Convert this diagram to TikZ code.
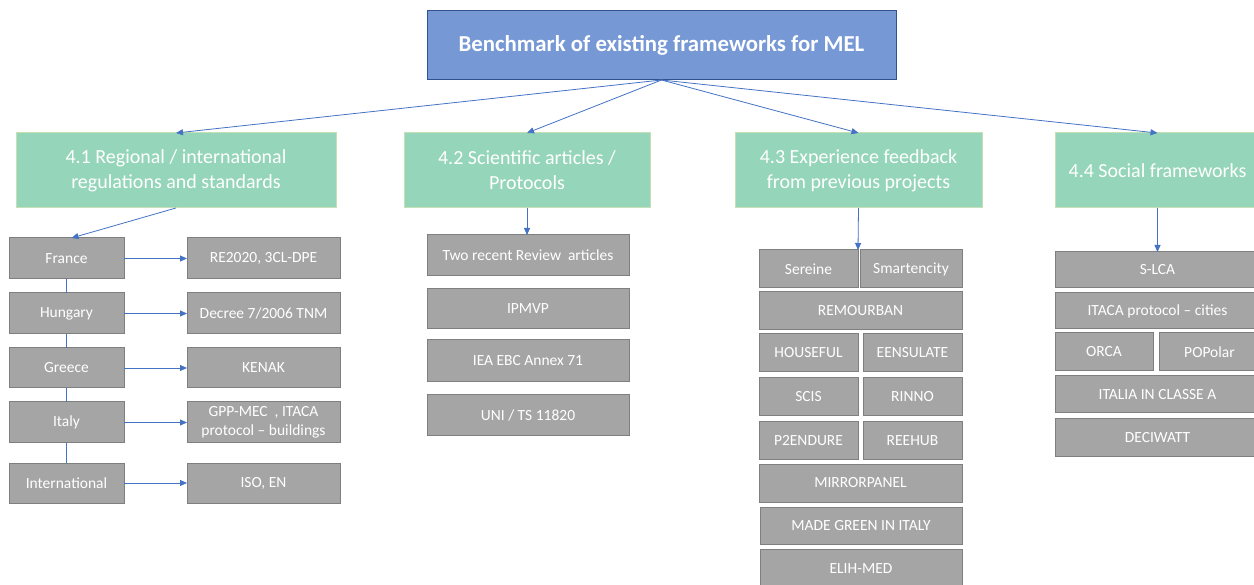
\documentclass[tikz,border=0pt]{standalone}
\usepackage{fontspec}
\setmainfont{Carlito}
\usetikzlibrary{arrows.meta,calc}
\definecolor{topfill}{HTML}{7698D5}
\definecolor{topborder}{HTML}{2F528F}
\definecolor{grfill}{HTML}{95D5B9}
\definecolor{grborder}{HTML}{C5E0B4}
\definecolor{gyfill}{HTML}{A5A5A5}
\definecolor{gyborder}{HTML}{7F7F7F}
\definecolor{arrowblue}{HTML}{4472C4}
\newcommand{\bx}[7]{\node[#1,minimum width={(#4-#2)*1pt},minimum height={(#5-#3)*1pt}] (#6) at ({(#2+#4)/2},{(#3+#5)/2}) {#7};}
\begin{document}
\begin{tikzpicture}[x=1pt,y=-1pt,
  topbox/.style={fill=topfill,draw=topborder,line width=1pt,text=white,inner sep=0pt,outer sep=0pt,font=\fontsize{22.8}{27}\selectfont\bfseries},
  greenbox/.style={fill=grfill,draw=grborder,line width=1pt,text=white,inner sep=0pt,outer sep=0pt,align=center,font=\fontsize{20}{25}\selectfont},
  graybox/.style={fill=gyfill,draw=gyborder,line width=1pt,text=white,inner sep=0pt,outer sep=0pt,align=center,font=\fontsize{15.5}{19}\selectfont},
  arr/.style={draw=arrowblue,line width=0.8pt,-{Triangle[length=7pt,width=6pt]}},
  link/.style={draw=arrowblue,line width=0.8pt}]
\useasboundingbox (0,0) rectangle (1254,585);
\clip (0,0) rectangle (1254,585);
\fill[white] (0,0) rectangle (1254,585);

\bx{topbox}{427}{11}{896}{80}{top}{Benchmark of existing frameworks for MEL}

\bx{greenbox}{16}{133}{336}{208}{g1}{4.1 Regional / international\\regulations and standards}
\bx{greenbox}{404}{133}{650}{208}{g2}{4.2 Scientific articles /\\Protocols}
\bx{greenbox}{735}{133}{982}{208}{g3}{4.3 Experience feedback\\from previous projects}
\bx{greenbox}{1055}{133}{1260}{208}{g4}{4.4 Social frameworks}

% column 1
\bx{graybox}{9}{238}{124}{279}{france}{France}
\bx{graybox}{9}{293}{124}{334}{hungary}{Hungary}
\bx{graybox}{9}{348}{124}{388}{greece}{Greece}
\bx{graybox}{9}{402}{124}{443}{italy}{Italy}
\bx{graybox}{9}{463}{124}{503}{intl}{International}
\bx{graybox}{187}{238}{340}{279}{re}{RE2020, 3CL-DPE}
\bx{graybox}{187}{293}{340}{334}{decree}{Decree 7/2006 TNM}
\bx{graybox}{187}{348}{340}{388}{kenak}{KENAK}
\bx{graybox}{187}{402}{340}{443}{gpp}{GPP-MEC~ , ITACA\\protocol -- buildings}
\bx{graybox}{187}{463}{340}{503}{iso}{ISO, EN}

% column 2
\bx{graybox}{427}{235}{629}{276}{two}{Two recent Review~ articles}
\bx{graybox}{427}{289}{629}{329}{ipmvp}{IPMVP}
\bx{graybox}{427}{340}{629}{382}{iea}{IEA EBC Annex 71}
\bx{graybox}{427}{395}{629}{436}{uni}{UNI / TS 11820}

% column 3
\bx{graybox}{759}{250}{858}{288}{sereine}{Sereine}
\bx{graybox}{860}{250}{962}{288}{smart}{Smartencity}
\bx{graybox}{759}{292}{962}{330}{remo}{REMOURBAN}
\bx{graybox}{759}{334}{858}{372}{house}{HOUSEFUL}
\bx{graybox}{863}{334}{962}{372}{eens}{EENSULATE}
\bx{graybox}{759}{378}{858}{416}{scis}{SCIS}
\bx{graybox}{863}{378}{962}{416}{rinno}{RINNO}
\bx{graybox}{759}{422}{858}{459}{p2}{P2ENDURE}
\bx{graybox}{863}{422}{962}{459}{reehub}{REEHUB}
\bx{graybox}{759}{464}{962}{502}{mirror}{MIRRORPANEL}
\bx{graybox}{760}{507}{962}{544}{made}{MADE GREEN IN ITALY}
\bx{graybox}{760}{549}{962}{588}{elih}{ELIH-MED}

% column 4
\bx{graybox}{1055}{252}{1260}{288}{slca}{S-LCA}
\bx{graybox}{1055}{293}{1260}{329}{itaca}{ITACA protocol -- cities}
\bx{graybox}{1055}{333}{1153}{371}{orca}{ORCA}
\bx{graybox}{1159}{333}{1260}{371}{popolar}{POPolar}
\bx{graybox}{1055}{376}{1260}{413}{italia}{ITALIA IN CLASSE A}
\bx{graybox}{1055}{419}{1260}{456}{deci}{DECIWATT}

% top arrows
\draw[arr] (top.south) -- (g1.north);
\draw[arr] (top.south) -- (g2.north);
\draw[arr] (top.south) -- (g3.north);
\draw[arr] (top.south) -- (g4.north);

% column arrows
\draw[arr] (g1.south) -- ($(france.north)+(5,0)$);
\draw[arr] (g2.south) -- (g2.south |- two.north);
\draw[arr] (g3.south) -- (sereine.north east);
\draw[arr] (g4.south) -- (g4.south |- slca.north);

% country chain
\draw[link] (france.south) -- (hungary.north);
\draw[link] (hungary.south) -- (greece.north);
\draw[link] (greece.south) -- (italy.north);
\draw[link] (italy.south) -- (intl.north);

\draw[arr] (france.east) -- (re.west);
\draw[arr] (hungary.east) -- (decree.west);
\draw[arr] (greece.east) -- (kenak.west);
\draw[arr] (italy.east) -- (gpp.west);
\draw[arr] (intl.east) -- (iso.west);
\end{tikzpicture}
\end{document}
